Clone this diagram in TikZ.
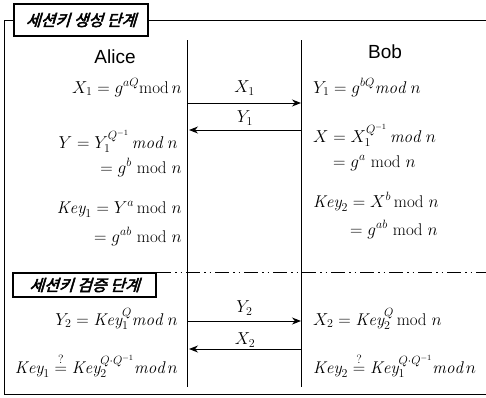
\documentclass[tikz,border=0pt]{standalone}
\usepackage{amsmath,amssymb}
\usepackage{fontspec}
\newfontfamily\korfont[FakeBold=3,FakeSlant=0.3]{Noto Sans CJK KR}
\newfontfamily\namefont{Liberation Sans}
\usetikzlibrary{arrows.meta}

\tikzset{
  eq/.style={font=\fontsize{17}{20}\selectfont, inner sep=0pt},
  eqL/.style={eq, anchor=base east},
  eqR/.style={eq, anchor=base west},
  msg/.style={line width=1pt, -{Stealth[length=9pt,width=7pt]}},
  phase/.style={draw, line width=1.1pt, inner sep=0pt,
    font=\korfont\fontsize{16}{18}\selectfont},
  party/.style={font=\namefont\fontsize{19}{22}\selectfont},
  life/.style={line width=1pt},
  frame/.style={line width=0.7pt}
}

\begin{document}
\begin{tikzpicture}[x=1pt,y=-1pt]
  % Parameters
  \def\la{187}        % x of Alice's line
  \def\lb{301}        % x of Bob's line
  \def\lt{40}         % top of the lines
  \def\lbot{387}      % bottom of the lines
  \def\cl{182}        % right edge of Alice's formulas
  \def\cr{313}        % left edge of Bob's formulas

  \useasboundingbox (0,0) rectangle (486,397);

  % Frame and phase boxes
  \node[phase, minimum width=134pt, minimum height=32pt] (gen) at (81,20) {세션키 생성 단계};
  \node[phase, minimum width=143pt, minimum height=24pt] (ver) at (84.5,285) {세션키 검증 단계};
  \coordinate (frameTL) at (4,20);
  \coordinate (frameTR) at (486,20);
  \coordinate (frameBL) at (4,394);
  \coordinate (frameBR) at (486,394);
  \draw[frame] (gen.west) -- (frameTL) -- (frameBL) -- (frameBR);
  \draw[frame] (gen.east) -- (frameTR);
  \coordinate (sepL) at (12,272);
  \coordinate (sepR) at (486,272);
  \draw[line width=1pt, dash pattern=on 14pt off 4pt on 1.5pt off 4pt on 1.5pt off 4pt] (sepL) -- (sepR);

  % Parties and their lines
  \node[party] (alice) at (115,57) {Alice};
  \node[party] (bob) at (385,52) {Bob};
  \coordinate (aTop) at (\la,\lt);
  \coordinate (aBot) at (\la,\lbot);
  \coordinate (bTop) at (\lb,\lt);
  \coordinate (bBot) at (\lb,\lbot);
  \draw[life] (aTop) -- (aBot);
  \draw[life] (bTop) -- (bBot);

  % Messages
  \coordinate (aX1) at (\la+1,103);   \coordinate (bX1) at (\lb,103);
  \coordinate (aY1) at (\la+2,130);   \coordinate (bY1) at (\lb,130);
  \coordinate (aY2) at (\la+1,321);   \coordinate (bY2) at (\lb,321);
  \coordinate (aX2) at (\la+2,349);   \coordinate (bX2) at (\lb,349);
  \draw[msg] (aX1) -- node[eq, above=7pt] (mX1) {$X_1$} (bX1);
  \draw[msg] (bY1) -- node[eq, above=4pt] (mY1) {$Y_1$} (aY1);
  \draw[msg] (aY2) -- node[eq, above=5pt] (mY2) {$Y_2$} (bY2);
  \draw[msg] (bX2) -- node[eq, above=1.5pt] (mX2) {$X_2$} (aX2);

  % Alice's side
  \node[eqL] (a1) at (\cl,93)  {$X_1 = g^{aQ}\mathrm{mod}\,n$};
  \node[eqL] (a2) at (178,148) {$Y = Y_1^{Q^{-1}}\,\mathit{mod}\ n$};
  \node[eqL] (a3) at (\cl,173) {$= g^{b}\ \mathrm{mod}\ n$};
  \node[eqL] (a4) at (\cl,213) {$\mathit{Key}_1 = Y^{a}\,\mathrm{mod}\ n$};
  \node[eqL] (a5) at (\cl,242) {$= g^{ab}\ \mathrm{mod}\ n$};
  \node[eqL] (a6) at (178,325) {$Y_2 = \mathit{Key}_1^{Q}\mathit{mod}\ n$};
  \node[eqL] (a7) at (178,373) {$\mathit{Key}_1 \stackrel{?}{=} \mathit{Key}_2^{Q\cdot Q^{-1}}\mathit{mod}\,n$};

  % Bob's side
  \node[eqR] (b1) at (\cr,93)  {$Y_1 = g^{bQ}\mathit{mod}\ n$};
  \node[eqR] (b2) at (\cr,142) {$X = X_1^{Q^{-1}}\,\mathit{mod}\ n$};
  \node[eqR] (b3) at (333,167) {$= g^{a}\ \mathrm{mod}\ n$};
  \node[eqR] (b4) at (\cr,207) {$\mathit{Key}_2 = X^{b}\,\mathrm{mod}\ n$};
  \node[eqR] (b5) at (350,235) {$= g^{ab}\ \mathrm{mod}\ n$};
  \node[eqR] (b6) at (\cr,325) {$X_2 = \mathit{Key}_2^{Q}\,\mathrm{mod}\ n$};
  \node[eqR] (b7) at (\cr,373) {$\mathit{Key}_2 \stackrel{?}{=} \mathit{Key}_1^{Q\cdot Q^{-1}}\mathit{mod}\,n$};
\end{tikzpicture}
\end{document}
